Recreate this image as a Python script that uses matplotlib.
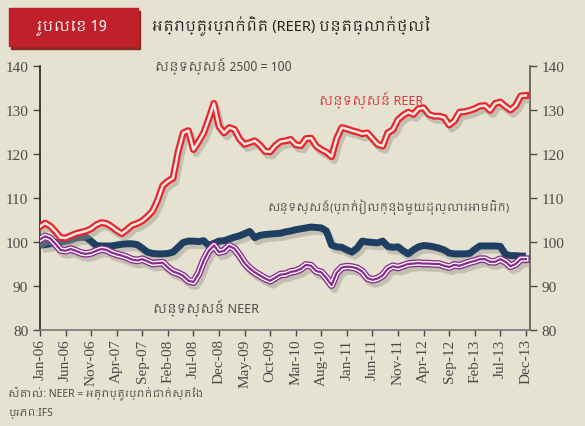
import matplotlib
matplotlib.use('Agg')
import matplotlib.pyplot as plt
import matplotlib.patheffects as pe
from matplotlib.patches import Rectangle
from matplotlib import font_manager

# monthly, Jan-06 .. Dec-13
months = [f'{m}-{y:02d}' for y in range(6, 14)
          for m in ['Jan', 'Feb', 'Mar', 'Apr', 'May', 'Jun',
                    'Jul', 'Aug', 'Sep', 'Oct', 'Nov', 'Dec']]

reer = [103.5, 104.3, 103.6, 102.4, 101.0, 100.9, 101.4, 101.9, 102.2, 102.5,
        103.0, 103.9, 104.4, 104.2, 103.5, 102.6, 101.9, 102.8, 103.8, 104.2,
        104.8, 105.8, 107.0, 109.5, 112.8, 113.8, 114.5, 120.5, 124.8, 125.3,
        121.0, 122.8, 124.8, 128.0, 131.5, 126.2, 124.8, 126.0, 125.6, 123.4,
        122.2, 122.6, 123.0, 122.0, 120.6, 120.5, 121.9, 122.8, 123.0, 123.3,
        122.1, 121.9, 123.5, 123.6, 121.8, 121.0, 120.4, 119.4, 123.5, 126.0,
        125.7, 125.3, 125.0, 124.6, 124.8, 123.5, 122.2, 121.8, 124.8, 125.5,
        127.8, 128.8, 129.5, 129.0, 130.3, 130.5, 129.0, 128.6, 128.6, 128.3,
        126.6, 127.5, 129.5, 129.6, 129.9, 130.3, 130.9, 131.0, 129.9, 131.5,
        131.8, 130.8, 130.0, 131.0, 133.2, 133.3]

neer = [100.6, 101.3, 100.8, 99.6, 98.2, 98.0, 98.4, 98.0, 97.5, 97.3,
        97.5, 98.0, 98.4, 98.2, 97.6, 97.2, 96.9, 96.5, 96.0, 95.8,
        96.1, 95.6, 95.1, 95.2, 95.3, 94.2, 93.3, 92.9, 92.3, 91.2,
        90.9, 92.8, 95.8, 98.0, 99.2, 97.7, 98.0, 99.1, 98.5, 97.0,
        95.2, 94.0, 93.1, 92.4, 91.7, 91.2, 91.9, 92.6, 92.7, 93.2,
        93.4, 93.9, 94.8, 94.6, 93.4, 93.1, 91.8, 90.2, 93.0, 94.2,
        94.4, 94.3, 94.0, 93.3, 91.8, 91.4, 91.7, 92.4, 93.9, 94.5,
        94.2, 94.6, 95.0, 95.1, 95.2, 95.1, 95.1, 95.0, 95.0, 94.6,
        94.3, 94.8, 94.6, 95.0, 95.4, 95.7, 96.1, 96.1, 95.5, 95.5,
        96.1, 95.5, 94.5, 95.0, 96.1, 96.1]

khr_usd = [99.3, 99.4, 99.6, 99.8, 100.0, 100.2, 100.5, 100.9, 101.1, 101.1,
           100.2, 99.2, 99.1, 99.1, 99.1, 99.3, 99.5, 99.6, 99.6, 99.4,
           98.6, 97.7, 97.4, 97.3, 97.3, 97.4, 97.7, 98.8, 99.9, 100.2,
           100.2, 100.1, 100.3, 99.2, 99.7, 100.2, 100.3, 100.7, 101.1, 101.4,
           101.9, 102.4, 101.0, 101.5, 101.7, 101.8, 101.9, 102.0, 102.3, 102.5,
           102.8, 103.0, 103.2, 103.4, 103.3, 103.2, 102.5, 99.3, 98.9, 98.8,
           98.2, 97.7, 98.6, 100.2, 100.0, 99.9, 99.8, 100.2, 99.0, 98.8,
           98.9, 98.0, 97.3, 98.2, 98.9, 99.2, 99.1, 98.9, 98.6, 98.2,
           97.5, 97.3, 97.3, 97.3, 97.4, 98.3, 99.1, 99.1, 99.1, 99.1,
           99.0, 97.2, 96.9, 96.9, 96.8, 96.8]

yticks = [80, 90, 100, 110, 120, 130, 140]

BG = '#E6E2D2'
RED = '#E8252B'
PURPLE = '#8A2A8C'
NAVY = '#1E3F62'
GREY = '#4A4A4A'

# something that can draw Khmer
khmer = [f.name for f in font_manager.fontManager.ttflist if 'khmer' in f.name.lower()]
plt.rcParams['font.family'] = khmer[:1] + ['Noto Sans', 'DejaVu Sans']

serif_file = font_manager.findfont(font_manager.FontProperties(family='Liberation Serif'))
serif = font_manager.FontProperties(fname=serif_file, size=11)

fig = plt.figure(figsize=(5.85, 4.27), dpi=100, facecolor=BG)
ax = fig.add_axes([40/585, 96/427, 490/585, 264/427], facecolor=BG)

x = list(range(len(months)))
shadow = pe.SimpleLineShadow(offset=(2, -3), shadow_color='#9a968a', alpha=0.45)

ax.plot(x, khr_usd, color=NAVY, lw=5, solid_capstyle='butt',
        path_effects=[shadow, pe.Normal()], zorder=3)

# neer: purple / white / purple stripes
ax.plot(x, neer, color=PURPLE, lw=5.5, path_effects=[shadow, pe.Normal()], zorder=4)
ax.plot(x, neer, color='white', lw=3.6, zorder=4)
ax.plot(x, neer, color=PURPLE, lw=1.6, zorder=4)

# reer: red with a light core
ax.plot(x, reer, color=RED, lw=5, path_effects=[shadow, pe.Normal()], zorder=5)
ax.plot(x, reer, color='#F4E8E2', lw=1.8, zorder=5)

ax.set_xlim(0, 95.8)
ax.set_ylim(80, 140)
ax.set_yticks(yticks)
ax.set_yticklabels([str(v) for v in yticks], fontproperties=serif)
ax.set_xticks(x[::5])
ax.set_xticklabels(months[::5], rotation=90, fontproperties=serif)
ax.tick_params(axis='y', colors=GREY, length=5, width=1,
               labelleft=True, labelright=True, left=True, right=True)
ax.tick_params(axis='x', length=4, width=1, colors=GREY, pad=2)
for t in ax.yaxis.get_major_ticks():
    t.label2.set_fontproperties(serif)

ax.spines['top'].set_visible(False)
ax.spines['left'].set_color('#222222')
ax.spines['right'].set_color('#555555')
ax.spines['bottom'].set_color('#777777')
for s in ['left', 'right', 'bottom']:
    ax.spines[s].set_linewidth(1.2)

ax.text(0.235, 0.985, 'សន្ទស្សន៍ 2500 = 100', transform=ax.transAxes,
        fontsize=9, color=GREY)
ax.text(0.57, 0.855, 'សន្ទស្សន៍ REER', transform=ax.transAxes,
        fontsize=9, color='#D8353B')
ax.text(0.465, 0.455, 'សន្ទស្សន៍(ប្រាក់រៀលក្នុងមួយដុល្លារអាមេរិក)', transform=ax.transAxes,
        fontsize=8, color=GREY)
ax.text(0.23, 0.07, 'សន្ទស្សន៍ NEER', transform=ax.transAxes,
        fontsize=9, color=GREY)

# header
fig.patches.append(Rectangle((11/585, 1 - 50/427), 129/585, 38/427,
                             transform=fig.transFigure, color='#8a2a22', zorder=0))
fig.patches.append(Rectangle((9/585, 1 - 47/427), 129/585, 38/427,
                             transform=fig.transFigure, color='#C0202A', zorder=1))
fig.text(73/585, 1 - 28/427, 'រូបលេខ 19', color='white', fontsize=10.5,
         ha='center', va='center')
fig.text(152/585, 1 - 26/427, 'អត្រាប្តូរប្រាក់ពិត (REER) បន្តធ្លាក់ថ្លៃ', color='#222222',
         fontsize=10.5, fontweight='bold', va='center')

fig.text(8/585, 1 - 393/427, 'សំគាល់: NEER = អត្រាប្តូរប្រាក់ជាក់ស្តែង', color=GREY,
         fontsize=7.5, va='center')
fig.text(8/585, 1 - 413/427, 'ប្រភព:IFS', color=GREY, fontsize=7.5, va='center')

fig.savefig('out.png', dpi=100, facecolor=BG)
